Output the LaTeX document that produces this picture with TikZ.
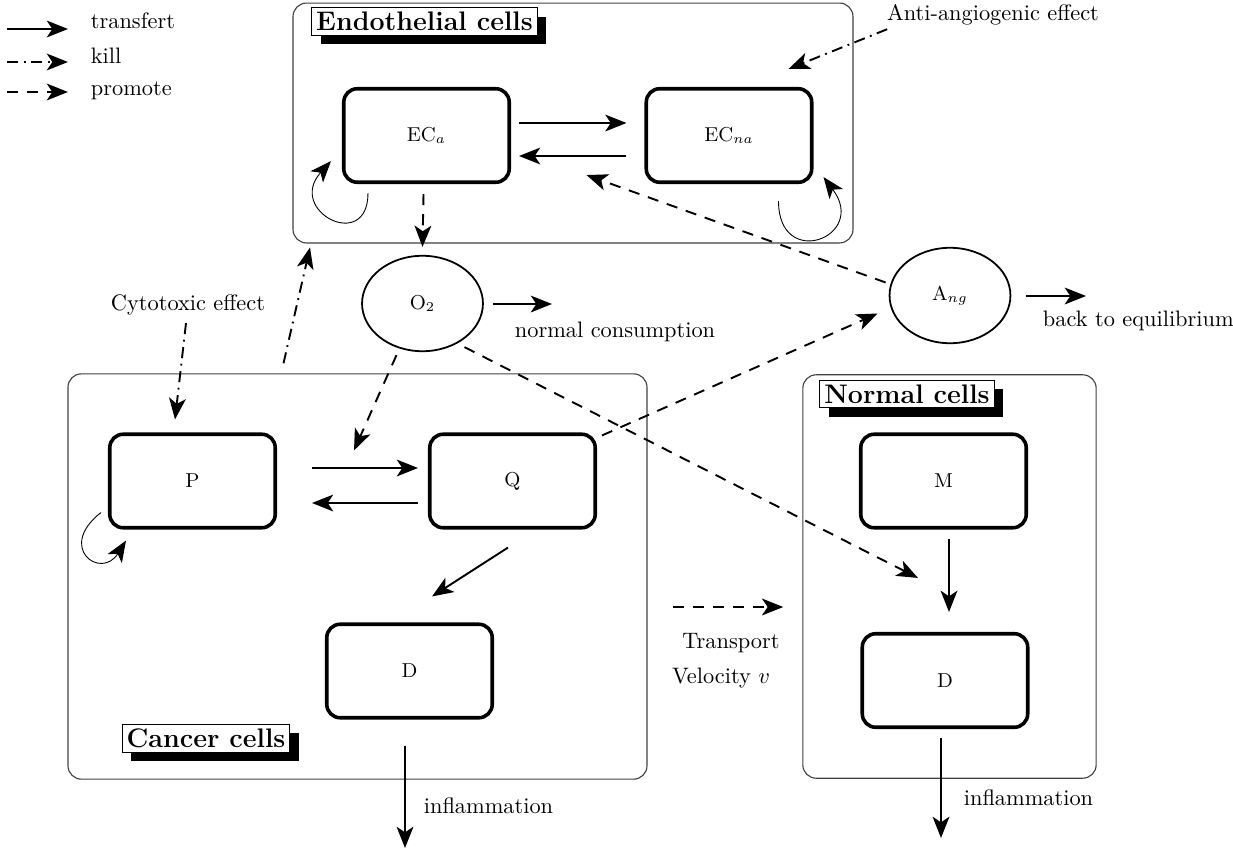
\documentclass[tikz,border=0pt]{standalone}
\usepackage{amsmath}
\usetikzlibrary{shapes,arrows.meta,calc,shadows}

\begin{document}
\begin{tikzpicture}[x=0.01572cm,y=-0.01572cm,
        >={Stealth[length=9.5pt,width=7.5pt,inset=2.5pt]},
        transfert/.style={->,line width=0.85pt},
        killing/.style={->,line width=0.85pt,dash pattern=on 5pt off 2.5pt on 0.8pt off 2.5pt},
        promote/.style={->,line width=0.85pt,dash pattern=on 5pt off 4pt},
        selfloop/.style={->,line width=0.4pt},
        compartment/.style={draw=black!75,line width=0.5pt,rounded corners=6pt},
        cellbox/.style={draw,line width=1.6pt,rounded corners=6pt,minimum width=2.6cm,minimum height=1.47cm,font=\small},
        species/.style={draw,ellipse,line width=0.8pt,minimum width=1.9cm,minimum height=1.5cm,font=\small},
        boxtitle/.style={draw,line width=0.5pt,fill=white,inner sep=2pt,font=\large\bfseries,
          drop shadow={fill=black,opacity=1,shadow xshift=4pt,shadow yshift=-4pt}}]

        \useasboundingbox (0,0) rectangle (1233,852);

        % legend
        \coordinate (lg1a) at (7,29);   \coordinate (lg1b) at (68,29);
        \coordinate (lg2a) at (7,62);   \coordinate (lg2b) at (68,62);
        \coordinate (lg3a) at (7,92);   \coordinate (lg3b) at (68,92);
        \draw[transfert] (lg1a) -- (lg1b);
        \draw[killing] (lg2a) -- (lg2b);
        \draw[promote] (lg3a) -- (lg3b);
        \node[anchor=base west] (lgtransfert) at (83,28) {transfert};
        \node[anchor=base west] (lgkill) at (83,63) {kill};
        \node[anchor=base west] (lgpromote) at (83,95) {promote};

        % compartments
        \node[compartment,minimum width=8.8cm,minimum height=3.77cm] (endo) at (573,123) {};
        \node[compartment,minimum width=9.1cm,minimum height=6.37cm] (cancer) at (357.5,576.5) {};
        \node[compartment,minimum width=4.61cm,minimum height=6.34cm] (normal) at (949.5,576.5) {};
        \node[boxtitle] (endotitle) at (424.5,21.5) {Endothelial cells};
        \node[boxtitle] (cancertitle) at (206,738.5) {Cancer cells};
        \node[boxtitle] (normaltitle) at (907,394) {Normal cells};

        % cell populations
        \node[cellbox] (eca) at (426.5,135.5) {EC$_a$};
        \node[cellbox] (ecna) at (729,135.5) {EC$_{na}$};
        \node[cellbox] (p) at (192.5,481) {P};
        \node[cellbox] (q) at (512.5,481) {Q};
        \node[cellbox] (dc) at (409.5,671) {D};
        \node[cellbox] (m) at (943.5,481) {M};
        \node[cellbox] (dn) at (945,680.5) {D};

        \node[species] (o2) at (422.5,303.5) {O$_2$};
        \node[species] (ang) at (950,295.5) {A$_{ng}$};

        % texts
        \node[anchor=west] (consum) at (507,332) {normal consumption};
        \node[anchor=west] (equil) at (1035,321) {back to equilibrium};
        \node (cyto) at (188,305) {Cytotoxic effect};
        \node (anti) at (993,15) {Anti-angiogenic effect};
        \node (transport) at (731,643) {Transport};
        \node (velocity) at (721,678) {Velocity $v$};
        \node[anchor=west] (inflc) at (416,806) {inflammation};
        \node[anchor=west] (infln) at (956,798) {inflammation};

        \coordinate (o2out) at (552,304);
        \coordinate (angout) at (1086,296);
        \coordinate (dcout) at (405,848);
        \coordinate (dnout) at (941,838);

        % transfert
        \draw[transfert] ($(eca.east)+(8,-12.5)$) -- ($(ecna.west)+(-18,-12.5)$);
        \draw[transfert] ($(ecna.west)+(-18,20.5)$) -- ($(eca.east)+(8,20.5)$);
        \draw[transfert] ($(p.east)+(35,-13)$) -- ($(q.west)+(-10,-13)$);
        \draw[transfert] ($(q.west)+(-10,22)$) -- ($(p.east)+(35,22)$);
        \draw[transfert] ($(q.south)+(-4.5,18)$) -- ($(dc.north)+(22.5,-26)$);
        \draw[transfert] ($(m.south)+(5.5,9)$) -- ($(dn.north)+(4,-20)$);
        \draw[transfert] ($(dc.south)+(-4.5,26)$) -- (dcout);
        \draw[transfert] ($(dn.south)+(-4,9)$) -- (dnout);
        \draw[transfert] ($(o2.east)+(9,0.5)$) -- (o2out);
        \draw[transfert] ($(ang.east)+(15,0.5)$) -- (angout);

        \draw[selfloop] ($(eca.south west)+(26,9)$) .. controls +(0,60) and +(-45,50) .. ($(eca.south west)+(-11,-23)$);
        \draw[selfloop] ($(ecna.south east)+(-35,17)$) .. controls +(0,70) and +(45,60) .. ($(ecna.south east)+(10,-7)$);
        \draw[selfloop] ($(p.south west)+(-7,-17)$) .. controls +(-45,35) and +(-25,40) .. ($(p.south west)+(18,11)$);

        % promote
        \draw[promote] ($(eca.south)+(-3,10)$) -- ($(o2.north)+(0,-8)$);
        \draw[promote] ($(o2.south)+(-26,3)$) -- ($(p.north east)+(77,18)$);
        \draw[promote] ($(o2.south)+(42,-5)$) -- ($(dn.north)+(-27,-54)$);
        \draw[promote] ($(q.north east)+(5,3)$) -- ($(ang.west)+(-11,18)$);
        \draw[promote] ($(ang.west)+(-3,-13)$) -- ($(ecna.south west)+(-58,-9)$);
        \draw[promote] ($(cancer.east)+(25,30.5)$) -- ($(normal.west)+(-19,30.5)$);

        % kill
        \draw[killing] ($(cyto.south)+(-2,0)$) -- ($(p.north)+(-17.5,-13)$);
        \draw[killing] ($(cancer.north)+(-74,-10)$) -- ($(endo.south)+(-263,4)$);
        \draw[killing] ($(anti.south west)+(8,-4)$) -- ($(ecna.north east)+(-25,-18)$);

      \end{tikzpicture}
\end{document}
